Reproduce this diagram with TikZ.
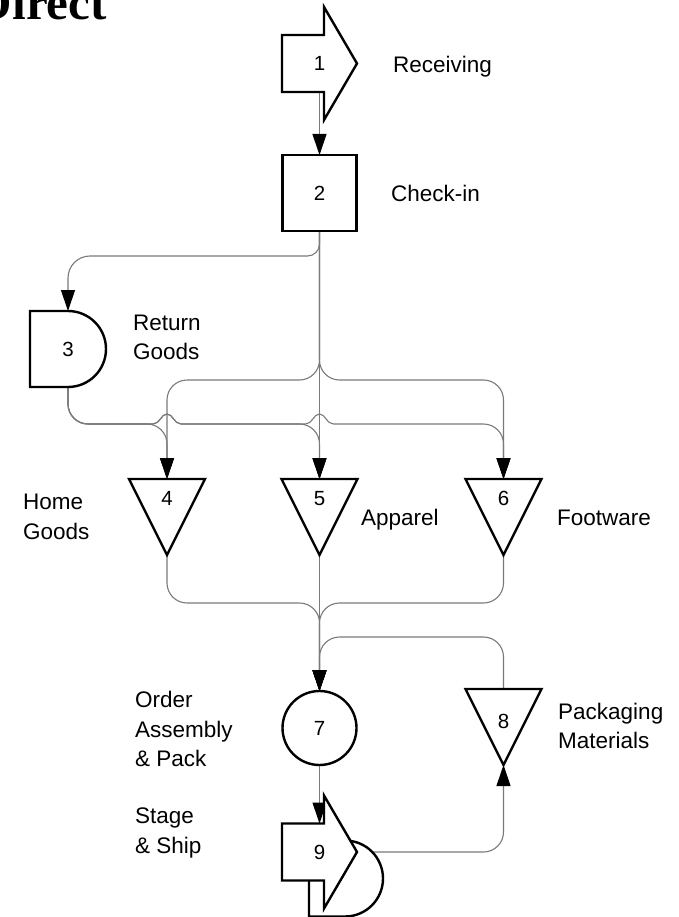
\documentclass[tikz,border=0pt]{standalone}
\usepackage{fontspec}
\setmainfont{Liberation Sans}
\newfontfamily\titlefont{Liberation Serif}
\usetikzlibrary{arrows.meta,calc}
\definecolor{linegray}{HTML}{7A7A7A}

% process-chart symbols: arrow (transport), box (inspection), D (delay),
% down triangle (storage), circle (operation)
\newcommand\transportshape[1]{%
  \draw[outline] ($(#1.center)+(-37.5,-28.5)$) -- ++(42,0) -- ++(0,-28)
    -- (#1.east) -- ($(#1.center)+(4.5,56.5)$) -- ++(0,-28)
    -- ($(#1.center)+(-37.5,28.5)$) -- cycle;}
\newcommand\storageshape[1]{%
  \draw[outline] (#1.north west) -- (#1.north east) -- (#1.south) -- cycle;}
% line jump over a vertical connector at the crossing point #1
\newcommand\linejump[1]{%
  -- ($#1+(-14,0)$) .. controls +(7,0) and +(-6,0) .. ($#1+(0,-10)$)
  .. controls +(6,0) and +(-7,0) .. ($#1+(14,0)$)}

\begin{document}
\begin{tikzpicture}[x=1pt,y=-1pt,
  frame/.style={inner sep=0pt, outer sep=0pt},
  conn/.style={draw=linegray, line width=1.1pt},
  arr/.style={-{Triangle[length=21pt,width=14pt,color=black]}},
  rc/.style={rounded corners=20pt},
  outline/.style={draw=black, line width=2.4pt, fill=white, line join=miter},
  num/.style={inner sep=0pt, font=\fontsize{20.5}{20.5}\selectfont, text height=14.7pt, text depth=0pt},
  lab/.style={inner sep=0pt, anchor=west, font=\fontsize{22.5}{29.5}\selectfont, text height=16.1pt, text depth=0pt},
  labm/.style={inner sep=0pt, anchor=west, align=left, font=\fontsize{22.5}{29.5}\selectfont}]
\useasboundingbox (0,0) rectangle (679,917);

% title
\node[frame, anchor=base west, font=\titlefont\bfseries\fontsize{49}{49}\selectfont] at (-23,20) {Direct};

% symbol frames
\node[frame, minimum width=75pt, minimum height=113pt] (n1) at (319.5,63.5) {};
\node[frame, minimum width=74pt, minimum height=76pt] (n2) at (319.5,193) {};
\node[frame, minimum width=76pt, minimum height=76pt] (n3) at (68,349) {};
\node[frame, minimum width=76pt, minimum height=76pt] (n4) at (167,517) {};
\node[frame, minimum width=76pt, minimum height=76pt] (n5) at (319.5,517) {};
\node[frame, minimum width=76pt, minimum height=76pt] (n6) at (503.5,517) {};
\node[frame, circle, minimum size=74pt] (n7) at (319.5,728) {};
\node[frame, minimum width=76pt, minimum height=76pt] (n8) at (503.5,727) {};
\node[frame, minimum width=75pt, minimum height=113pt] (n9) at (319.5,852) {};
\coordinate (n1out) at ($(n1.center)+(0,28.5)$);
\coordinate (n9top) at ($(n9.center)+(0,-28.5)$);
\coordinate (n9tip) at (n9.east);

% bus levels
\coordinate (bus2) at (0,380);
\coordinate (bus3) at (0,424);
\coordinate (bus7) at (0,603);
\coordinate (bus8) at (0,637);
\coordinate (x4) at (n4.north |- bus3);
\coordinate (x5) at (n5.north |- bus3);

% connectors
\draw[conn,arr] (n1out) -- (n2.north);
\draw[conn,arr] (n2.south) [rounded corners=12pt] -- ++(0,25) [rounded corners=22pt] -| (n3.north);
\draw[conn,arr,rc] (n2.south) |- (n4.north |- bus2) -- (n4.north);
\draw[conn,arr] (n2.south) -- (n5.north);
\draw[conn,arr,rc] (n2.south) |- (n6.north |- bus2) -- (n6.north);
% from the delay: rounded turns, jumps over the verticals they cross
\draw[conn,arr] (n3.south) -- ($(n3.south |- bus3)+(0,-20)$)
  arc[start angle=180,end angle=270,radius=20pt]
  -- ($(x4)+(-20,0)$)
  arc[start angle=90,end angle=0,radius=20pt] -- (n4.north);
\draw[conn,arr] (n3.south) -- ($(n3.south |- bus3)+(0,-20)$)
  arc[start angle=180,end angle=270,radius=20pt]
  \linejump{(x4)}
  -- ($(x5)+(-20,0)$)
  arc[start angle=90,end angle=0,radius=20pt] -- (n5.north);
\draw[conn,arr] (n3.south) -- ($(n3.south |- bus3)+(0,-20)$)
  arc[start angle=180,end angle=270,radius=20pt]
  \linejump{(x4)} \linejump{(x5)}
  -- ($(n6.north |- bus3)+(-20,0)$)
  arc[start angle=90,end angle=0,radius=20pt] -- (n6.north);
\draw[conn,arr,rc] (n4.south) |- (n7.north |- bus7) -- (n7.north);
\draw[conn,arr] (n5.south) -- (n7.north);
\draw[conn,arr,rc] (n6.south) |- (n7.north |- bus7) -- (n7.north);
\draw[conn,arr,rc] (n8.north) |- (n7.north |- bus8) -- (n7.north);
\draw[conn,arr] (n7.south) -- (n9top);
\draw[conn,arr,rc] (n9tip) -| (n8.south);

% symbols
\transportshape{n1}
\draw[outline] (n2.north west) rectangle (n2.south east);
\draw[outline] (n3.north west) -- (n3.north) arc[start angle=90,end angle=-90,radius=38pt]
  -- (n3.south west) -- cycle;
\storageshape{n4}
\storageshape{n5}
\storageshape{n6}
\draw[outline] (n7.center) circle[radius=37pt];
\storageshape{n8}
\draw[outline] ($(n9.center)+(-10.5,-11.5)$) -- ($(n9.center)+(25.5,-11.5)$)
  arc[start angle=90,end angle=-90,radius=38pt] -- ($(n9.center)+(-10.5,64.5)$) -- cycle;
\transportshape{n9}

% numbers
\node[num] at (n1.center) {1};
\node[num] at (n2.center) {2};
\node[num] at (n3.center) {3};
\node[num] at ($(n4.center)+(0,-18.5)$) {4};
\node[num] at ($(n5.center)+(0,-18.5)$) {5};
\node[num] at ($(n6.center)+(0,-18.5)$) {6};
\node[num] at (n7.center) {7};
\node[num] at ($(n8.center)+(0,-5.5)$) {8};
\node[num] at (n9.center) {9};

% captions
\node[lab] at (393,64) {Receiving};
\node[lab] at (391,193) {Check-in};
\node[labm] at (133,337.5) {Return\\Goods};
\node[labm] at (23,517) {Home\\Goods};
\node[lab] at (361,517) {Apparel};
\node[lab] at (557,517) {Footware};
\node[labm] at (135,729) {Order\\Assembly\\\& Pack};
\node[labm] at (558,726) {Packaging\\Materials};
\node[labm] at (135,833) {Stage\\\& Ship};
\end{tikzpicture}
\end{document}
